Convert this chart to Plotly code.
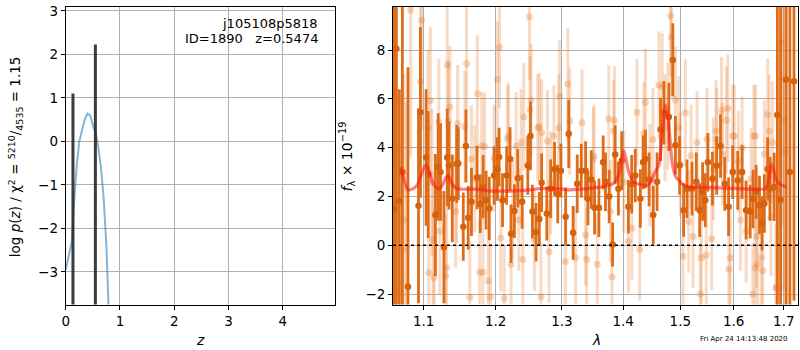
import plotly.graph_objects as go

# ---------------- left panel: redshift PDF ----------------
z_grid = [0.0, 0.06, 0.115, 0.15, 0.2, 0.25, 0.30, 0.35, 0.40, 0.45, 0.50, 0.55, 0.60, 0.65, 0.70, 0.75, 0.79, 0.82]
logp = [-2.95, -2.6, -2.3, -1.5, -0.6, 0.0, 0.25, 0.5, 0.64, 0.6, 0.38, 0.2, -0.12, -0.6, -1.3, -2.4, -3.8, -5.0]
peak_z = [0.134, 0.5474]
peak_logp = [1.10, 2.23]

# ---------------- right panel: spectrum ----------------
dark_wave = [1.0615, 1.0643, 1.0681, 1.072, 1.0793, 1.0931, 1.0957, 1.1032, 1.106, 1.1157, 1.1194, 1.1226,
             1.1272, 1.1318, 1.1341, 1.1387, 1.1447, 1.147, 1.1539, 1.1576, 1.1608, 1.1654, 1.1733, 1.1779,
             1.182, 1.1862, 1.1908, 1.1977, 1.2025, 1.205, 1.21, 1.216, 1.221, 1.2225, 1.2275, 1.2325,
             1.239, 1.2475, 1.2515, 1.2545, 1.26, 1.265, 1.2685, 1.2765, 1.2825, 1.2885, 1.2935, 1.2985,
             1.3059, 1.3108, 1.3178, 1.3243, 1.3308, 1.3378, 1.3416, 1.347, 1.3524, 1.3595, 1.3665, 1.3703,
             1.3765, 1.3822, 1.3865, 1.3919, 1.3975, 1.4088, 1.4145, 1.4206, 1.4294, 1.4341, 1.4382, 1.4445,
             1.4518, 1.4585, 1.4647, 1.4706, 1.4794, 1.4865, 1.4912, 1.4988, 1.5061, 1.5123, 1.5215, 1.5294,
             1.5356, 1.541, 1.546, 1.5509, 1.5595, 1.5675, 1.5748, 1.5828, 1.5902, 1.5982, 1.6079, 1.6164,
             1.6243, 1.6322, 1.638, 1.6441, 1.6507, 1.6559, 1.6605, 1.6671, 1.6717, 1.6803, 1.6868, 1.6934,
             1.7048, 1.7125, 1.721]
dark_flux = [1.5, 8.06, 1.8, 3.0, -1.70, 1.62, 5.45, 3.6, 2.9, 1.24, 3.21, 3.0,
             -0.08, 3.6, 3.27, 1.92, 3.33, 3.35, 0.76, 4.07, 1.13, 1.78, 2.78, 1.70,
             2.4, 1.85, 1.51, 2.86, 3.13, 3.62, 1.85, 2.86, 3.54, 0.47, 1.40, 2.75,
             1.78, 3.27, 4.48, 1.38, 0.53, 1.08, 2.56, 1.30, 2.32, 3.13, 2.1, 3.06,
             1.17, 4.57, 0.51, 2.52, 3.06, 3.06, 1.92, 2.7, 1.54, 1.54, 3.40, 2.60,
             2.0, 0.03, 3.72, 2.32, 3.47, 1.58, 2.5, 2.86, 1.92, 3.40, 3.54, 2.7,
             1.24, 2.6, 4.75, 5.43, 5.26, 7.60, 4.10, 3.27, 1.44, 2.32, 2.32, 2.60,
             1.44, 2.2, 1.85, 3.40, 2.73, 3.27, 4.07, 2.52, 1.58, 3.00, 2.66, 3.00,
             1.44, 1.38, 1.9, 2.19, 1.65, 0.89, 1.71, 3.13, 2.32, 2.39, 5.34, 1.87,
             6.80, 3.0, 6.72]
dark_err = [12.0, 12.0, 4.6, 11.0, 9.0, 4.0, 3.5, 2.8, 2.6, 2.5, 2.2, 2.0,
            2.3, 2.0, 1.8, 1.8, 1.6, 1.5, 1.4, 1.5, 1.3, 1.4, 1.3, 1.2,
            1.3, 1.2, 1.3, 1.2, 1.3, 1.2, 1.1, 1.2, 1.3, 1.2, 1.1, 1.2,
            1.1, 1.2, 1.4, 1.1, 1.2, 1.1, 1.2, 1.1, 1.2, 1.1, 1.2, 1.1,
            1.2, 1.4, 1.1, 1.2, 1.1, 1.2, 1.1, 1.2, 1.1, 1.2, 1.1, 1.2,
            1.1, 0.9, 1.2, 1.1, 1.2, 1.1, 1.2, 1.1, 1.2, 1.1, 1.2, 1.1,
            1.2, 1.2, 1.3, 1.3, 1.4, 1.5, 1.2, 1.2, 1.1, 1.2, 1.1, 1.2,
            1.1, 1.2, 1.1, 1.2, 1.1, 1.2, 1.3, 1.1, 1.2, 1.1, 1.2, 1.1,
            1.2, 1.1, 1.2, 1.1, 1.2, 1.1, 1.2, 1.3, 1.3, 1.4, 10.0, 8.0,
            10.0, 12.0, 9.0]

light_wave = [1.0742, 1.0772, 1.0828, 1.0957, 1.0974, 1.1055, 1.1069, 1.1088, 1.1111, 1.1124, 1.114,
              1.1203, 1.1217, 1.1295, 1.1309, 1.1318, 1.1332, 1.1355, 1.1433, 1.1447, 1.1461,
              1.1562, 1.1585, 1.1631, 1.1654, 1.17, 1.1737, 1.177, 1.18, 1.1816, 1.1839, 1.1894, 1.1922,
              1.1977, 1.2025, 1.2055, 1.2075, 1.2125, 1.2175, 1.2185, 1.2225, 1.225, 1.23, 1.234, 1.2375,
              1.24, 1.2415, 1.25, 1.251, 1.2525, 1.2575, 1.2625, 1.265, 1.2675, 1.2685, 1.2775, 1.28,
              1.2825, 1.2875, 1.295, 1.2965, 1.3054, 1.3092, 1.3124, 1.3216, 1.3319, 1.3378, 1.3395,
              1.3503, 1.3514, 1.3568, 1.3757, 1.3784, 1.3811, 1.3838, 1.3854, 1.4012, 1.4088, 1.4147,
              1.4235, 1.4282, 1.4353, 1.4382, 1.4459, 1.4512, 1.4618, 1.4676, 1.4724, 1.4776, 1.4824,
              1.4841, 1.4912, 1.4971, 1.5, 1.5049, 1.5092, 1.5153, 1.5197, 1.5233, 1.5307, 1.5368,
              1.5387, 1.5479, 1.5491, 1.558, 1.5613, 1.5663, 1.5675, 1.5767, 1.5785, 1.5859, 1.589,
              1.5908, 1.5933, 1.5982, 1.6013, 1.6092, 1.6131, 1.6164, 1.6243, 1.6342, 1.6375, 1.6395,
              1.6421, 1.6428, 1.6447, 1.6474, 1.6546, 1.6572, 1.6605, 1.6671, 1.6704, 1.6737, 1.677,
              1.6836, 1.6855, 1.6888, 1.6934, 1.6967, 1.7, 1.7035]
light_flux = [1.04, -0.11, 9.64, 6.71, 9.23, 4.82, -1.12, 5.94, 2.59, 0.23, -1.32,
              5.05, 0.58, -1.26, -0.92, 7.39, 5.09, 5.67, 1.38, 2.39, 4.99,
              4.86, 7.44, -2.13, 3.54, 2.73, 6.21, -1.12, 4.08, -1.11, 4.05, -1.46, -2.13,
              3.56, 6.80, 8.12, 0.30, -2.17, 4.35, 4.48, -0.78, 1.51, 4.07, 1.04, 4.21,
              -0.58, 5.26, 9.37, 5.56, 5.96, 0.23, 4.82, 4.86, -2.11, 4.61, 4.27, -0.27,
              2.56, 4.48, 4.82, 6.10, -0.67, 6.61, 5.09, -0.51, 5.02, 0.43, -0.58,
              3.54, 3.67, -0.78, 5.18, 1.38, -1.30, 4.68, 5.13, 2.59, 0.16, 0.70,
              5.45, -0.17, 4.59, 5.86, 2.86, 4.35, 6.57, 6.50, 4.82, 5.29, 9.41,
              8.53, 5.96, 4.82, 3.33, -0.45, 5.43, 0.97, 3.67, 0.36, 4.21, -2.0,
              -0.51, -0.40, 4.35, 0.27, 3.13, 4.68, 4.35, 5.53, 3.74, 5.13, 5.62,
              -0.98, -0.51, 4.48, 4.48, 3.43, 1.04, 4.0, 0.57, 2.72, -2.0, 4.48,
              -0.92, 4.48, 0.36, -0.78, -0.51, -1.03, 3.74, 5.36, 4.68, 1.13, 4.21,
              -1.73, -1.75, 2.32, 8.33, 6.80, 5.16, 3.83]
light_err = [6.0, 6.0, 6.0, 4.5, 4.5, 3.2, 3.0, 3.0, 3.0, 2.8, 2.8,
             2.6, 2.6, 2.5, 2.5, 2.6, 2.5, 2.5, 2.3, 2.3, 2.4,
             2.3, 2.5, 2.3, 2.2, 2.2, 2.4, 2.2, 2.2, 2.2, 2.2, 2.2, 2.2,
             2.2, 2.4, 2.5, 2.2, 2.2, 2.2, 2.2, 2.2, 2.1, 2.2, 2.1, 2.2,
             2.1, 2.2, 2.6, 2.2, 2.3, 2.1, 2.2, 2.2, 2.2, 2.2, 2.1, 2.1,
             2.1, 2.1, 2.2, 2.3, 2.1, 2.3, 2.2, 2.1, 2.2, 2.1, 2.1,
             2.1, 2.1, 2.1, 2.2, 2.1, 2.1, 2.1, 2.2, 2.1, 2.1, 2.1,
             2.2, 2.1, 2.1, 2.2, 2.1, 2.1, 2.2, 2.2, 2.2, 2.2, 2.5,
             2.4, 2.2, 2.1, 2.1, 2.1, 2.2, 2.1, 2.1, 2.1, 2.1, 2.1,
             2.1, 2.1, 2.1, 2.1, 2.1, 2.1, 2.1, 2.2, 2.1, 2.2, 2.2,
             2.1, 2.1, 2.1, 2.1, 2.1, 2.1, 2.1, 2.1, 2.1, 2.1, 2.1,
             2.1, 2.1, 2.1, 2.1, 2.2, 2.2, 2.2, 2.3, 2.3, 2.4, 2.5,
             2.6, 2.8, 3.5, 5.0, 6.0, 7.0, 8.0]

model_wave = [1.070, 1.075, 1.079, 1.085, 1.092, 1.098, 1.103, 1.107, 1.112, 1.119, 1.125, 1.130,
              1.133, 1.137, 1.143, 1.150, 1.17, 1.19, 1.22, 1.25, 1.27, 1.29, 1.31, 1.33, 1.35,
              1.37, 1.385, 1.393, 1.398, 1.401, 1.405, 1.41, 1.418, 1.43, 1.441, 1.448, 1.455,
              1.462, 1.467, 1.471, 1.4735, 1.477, 1.481, 1.486, 1.492, 1.5, 1.506, 1.515, 1.53,
              1.56, 1.6, 1.64, 1.662, 1.668, 1.672, 1.675, 1.679, 1.684, 1.692, 1.706]
model_flux = [3.2, 2.6, 2.28, 2.3, 2.5, 3.0, 3.31, 3.05, 2.55, 2.32, 2.45, 2.78,
              2.86, 2.6, 2.36, 2.3, 2.3, 2.23, 2.22, 2.27, 2.33, 2.32, 2.27, 2.3, 2.35,
              2.42, 2.55, 2.95, 3.6, 3.87, 3.5, 2.95, 2.6, 2.48, 2.46, 2.6, 3.0,
              3.3, 4.4, 5.4, 5.76, 5.4, 4.5, 3.3, 2.8, 2.6, 2.48, 2.4, 2.38,
              2.36, 2.33, 2.3, 2.32, 2.55, 3.0, 3.33, 3.1, 2.7, 2.5, 2.39]

xticks_left = [0, 1, 2, 3, 4]
yticks_left = [-3, -2, -1, 0, 1, 2, 3]
xticks_right = [1.1, 1.2, 1.3, 1.4, 1.5, 1.6, 1.7]
yticks_right = [-2, 0, 2, 4, 6, 8]

FONT = "DejaVu Sans"
ORANGE = "rgb(222,108,24)"
ORANGE_DOT = "rgb(214,98,14)"
LIGHT_BAR = "rgba(232,125,45,0.28)"
LIGHT_DOT = "rgba(228,120,40,0.30)"

fig = go.Figure()

fig.add_trace(go.Scatter(x=z_grid, y=logp, mode="lines",
                         line=dict(color="rgba(31,119,180,0.55)", width=2),
                         xaxis="x", yaxis="y", showlegend=False, hoverinfo="skip"))

seg_x, seg_y = [], []
for zp, lp in zip(peak_z, peak_logp):
    seg_x += [zp, zp, None]
    seg_y += [-10, lp, None]
fig.add_trace(go.Scatter(x=seg_x, y=seg_y, mode="lines",
                         line=dict(color="rgba(40,40,40,0.9)", width=3),
                         xaxis="x", yaxis="y", showlegend=False, hoverinfo="skip"))

fig.add_trace(go.Scatter(x=light_wave, y=light_flux, mode="markers",
                         marker=dict(color=LIGHT_DOT, size=7, line=dict(width=0)),
                         error_y=dict(type="data", array=light_err, thickness=3, width=0, color=LIGHT_BAR),
                         xaxis="x2", yaxis="y2", showlegend=False, hoverinfo="skip"))

fig.add_trace(go.Scatter(x=dark_wave, y=dark_flux, mode="markers",
                         marker=dict(color=ORANGE_DOT, size=6.5, line=dict(width=0)),
                         error_y=dict(type="data", array=dark_err, thickness=2.8, width=0, color=ORANGE),
                         xaxis="x2", yaxis="y2", showlegend=False, hoverinfo="skip"))

fig.add_trace(go.Scatter(x=model_wave, y=model_flux, mode="lines",
                         line=dict(color="rgba(255,20,20,0.55)", width=3.2, shape="spline", smoothing=0.6),
                         xaxis="x2", yaxis="y2", showlegend=False, hoverinfo="skip"))

axis_common = dict(showline=True, linecolor="black", linewidth=1, mirror=True,
                   ticks="outside", ticklen=4, tickcolor="black", tickwidth=1,
                   showgrid=True, gridcolor="#b0b0b0", gridwidth=1, zeroline=False,
                   ticklabeloverflow="allow",
                   tickfont=dict(family=FONT, size=13.5, color="black"))

ydom = [1 - 304 / 350, 1 - 3 / 350]

fig.update_layout(
    width=800, height=350,
    margin=dict(l=0, r=0, t=0, b=0),
    paper_bgcolor="white", plot_bgcolor="white",
    xaxis=dict(domain=[62 / 800, 333 / 800], range=[0, 4.97], tickvals=xticks_left,
               anchor="y", **axis_common),
    yaxis=dict(domain=ydom, range=[-3.75, 3.09], tickvals=yticks_left,
               anchor="x", **axis_common),
    xaxis2=dict(domain=[391 / 800, 798 / 800], type="log", range=[0.0253, 0.2379],
                tickvals=xticks_right, ticktext=[f"{v:.1f}" for v in xticks_right],
                anchor="y2", **axis_common),
    yaxis2=dict(domain=ydom, range=[-2.43, 9.77], tickvals=yticks_right,
                anchor="x2", **axis_common),
    shapes=[dict(type="line", xref="x2 domain", yref="y2", x0=0, x1=1, y0=0, y1=0,
                 line=dict(color="black", width=1.6, dash="dot"))],
)

ann_font = dict(family=FONT, size=13, color="black")
fig.add_annotation(text="j105108p5818", x=318 / 800, y=1 - 20 / 350, xref="paper", yref="paper",
                   xanchor="right", yanchor="middle", showarrow=False, font=ann_font)
fig.add_annotation(text="ID=1890   z=0.5474", x=318 / 800, y=1 - 34.5 / 350, xref="paper", yref="paper",
                   xanchor="right", yanchor="middle", showarrow=False, font=ann_font)
fig.add_annotation(text="log <i>p</i>(<i>z</i>) / χ<sup>2</sup> = <sup>5210</sup>/<sub>4535</sub> = 1.15",
                   x=12 / 800, y=1 - 154 / 350, xref="paper", yref="paper", textangle=-90,
                   xanchor="center", yanchor="middle", showarrow=False,
                   font=dict(family=FONT, size=13.5, color="black"))
fig.add_annotation(text="<i>f</i><sub>λ</sub> × 10<sup>−19</sup>",
                   x=345 / 800, y=1 - 154 / 350, xref="paper", yref="paper", textangle=-90,
                   xanchor="center", yanchor="middle", showarrow=False,
                   font=dict(family=FONT, size=14, color="black"))
fig.add_annotation(text="<i>z</i>", x=197 / 800, y=1 - 340 / 350, xref="paper", yref="paper",
                   xanchor="center", yanchor="middle", showarrow=False,
                   font=dict(family=FONT, size=14, color="black"))
fig.add_annotation(text="<i>λ</i>", x=595 / 800, y=1 - 340 / 350, xref="paper", yref="paper",
                   xanchor="center", yanchor="middle", showarrow=False,
                   font=dict(family=FONT, size=14, color="black"))
fig.add_annotation(text="Fri Apr 24 14:13:48 2020", x=744 / 800, y=1 - 339 / 350, xref="paper", yref="paper",
                   xanchor="center", yanchor="middle", showarrow=False,
                   font=dict(family=FONT, size=7, color="black"))

fig.write_html("out.html", config={"displayModeBar": False},
               post_script="document.body.style.margin='0';document.body.style.padding='0';"
                           "document.body.style.overflow='hidden';")
